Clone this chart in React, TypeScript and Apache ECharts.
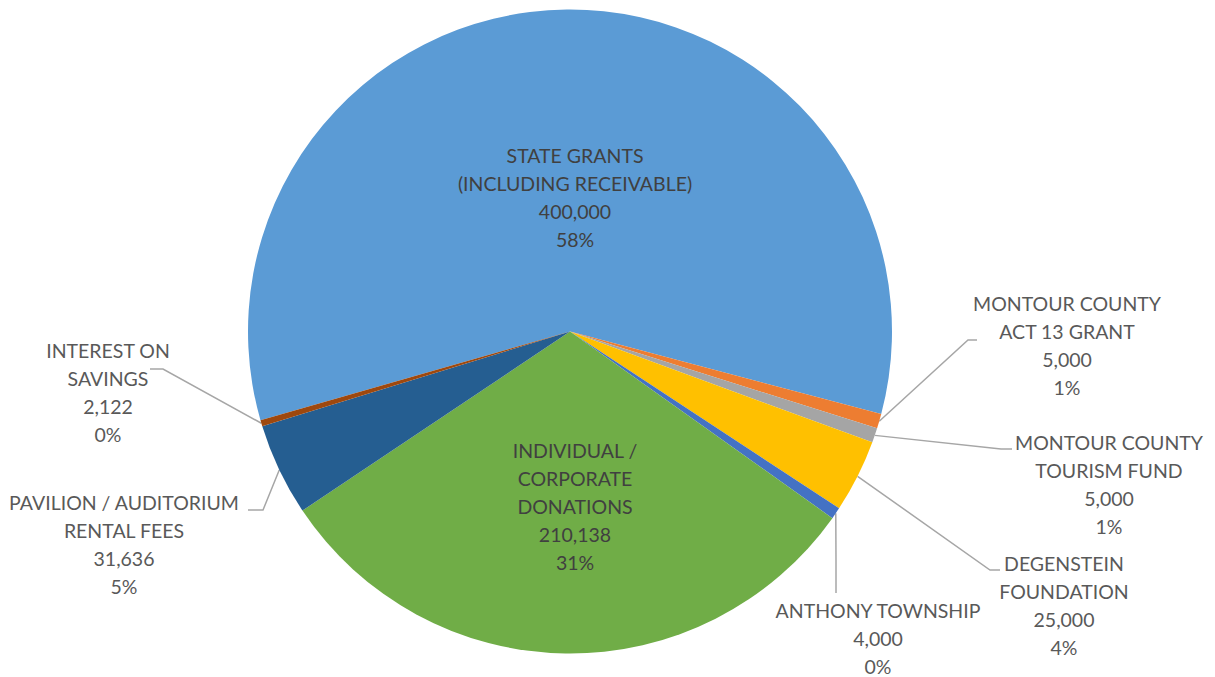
import React, { useEffect, useRef } from "react";
import * as echarts from "echarts";

const categories = [
  "STATE GRANTS\n(INCLUDING RECEIVABLE)",
  "MONTOUR COUNTY\nACT 13 GRANT",
  "MONTOUR COUNTY\nTOURISM FUND",
  "DEGENSTEIN\nFOUNDATION",
  "ANTHONY TOWNSHIP",
  "INDIVIDUAL /\nCORPORATE\nDONATIONS",
  "PAVILION / AUDITORIUM\nRENTAL FEES",
  "INTEREST ON\nSAVINGS",
];
const values = [400000, 5000, 5000, 25000, 4000, 210138, 31636, 2122];
const percentLabels = ["58%", "1%", "1%", "4%", "0%", "31%", "5%", "0%"];
const colors = ["#5B9BD5", "#ED7D31", "#A5A5A5", "#FFC000", "#4472C4", "#70AD47", "#255E91", "#9E480E"];
const insideIdx = [0, 5];

// label placement (style): [centerX, topY], leader line elbow & end
const LABEL_POS: Record<number, { x: number; y: number; line?: number[][] }> = {
  0: { x: 575, y: 141 },
  1: { x: 1067, y: 289, line: [[968, 340], [977, 340]] },
  2: { x: 1109, y: 428, line: [[1001, 449], [1012, 449]] },
  3: { x: 1064, y: 549, line: [[990, 570], [1000, 570]] },
  4: { x: 878, y: 596, line: [[836, 560], [836, 593]] },
  5: { x: 575, y: 436 },
  6: { x: 124, y: 488, line: [[263, 510], [248, 510]] },
  7: { x: 108, y: 336, line: [[163, 369], [150, 369]] },
};

export default function App() {
  const ref = useRef<HTMLDivElement>(null);
  useEffect(() => {
    if (!ref.current) return;
    const chart = echarts.init(ref.current, null, { renderer: "svg" });
    const data = categories.map((name, i) => {
      const inside = insideIdx.includes(i);
      return {
        name,
        value: values[i],
        itemStyle: { color: colors[i] },
        label: {
          position: inside ? "inside" : "outside",
          color: inside ? "#404040" : "#595959",
        },
        labelLine: { show: !inside },
      };
    });
    chart.setOption({
      animation: false,
      series: [
        {
          type: "pie",
          center: [570, 331.5],
          radius: 322,
          startAngle: 196,
          clockwise: true,
          avoidLabelOverlap: false,
          emphasis: { disabled: true },
          itemStyle: { borderWidth: 0 },
          label: {
            show: true,
            fontFamily: "Lato",
            fontSize: 19.5,
            lineHeight: 28,
            align: "center",
            formatter: (p: any) =>
              `${p.name}\n${Number(p.value).toLocaleString("en-US")}\n${percentLabels[p.dataIndex]}`,
          },
          labelLine: {
            show: true,
            lineStyle: { color: "#A6A6A6", width: 1.5 },
          },
          labelLayout: (params: any) => {
            const pos = LABEL_POS[params.dataIndex];
            const out: any = { x: pos.x, y: pos.y, align: "center", verticalAlign: "top" };
            if (pos.line && params.labelLinePoints && params.labelLinePoints[0]) {
              const start = params.labelLinePoints[0];
              out.labelLinePoints = [start, pos.line[0], pos.line[1]];
            }
            return out;
          },
          data,
        },
      ],
    });
    return () => chart.dispose();
  }, []);
  return (
    <div
      ref={ref}
      style={{ position: "absolute", left: 0, top: 0, width: 1215, height: 677, background: "#fff" }}
    />
  );
}
